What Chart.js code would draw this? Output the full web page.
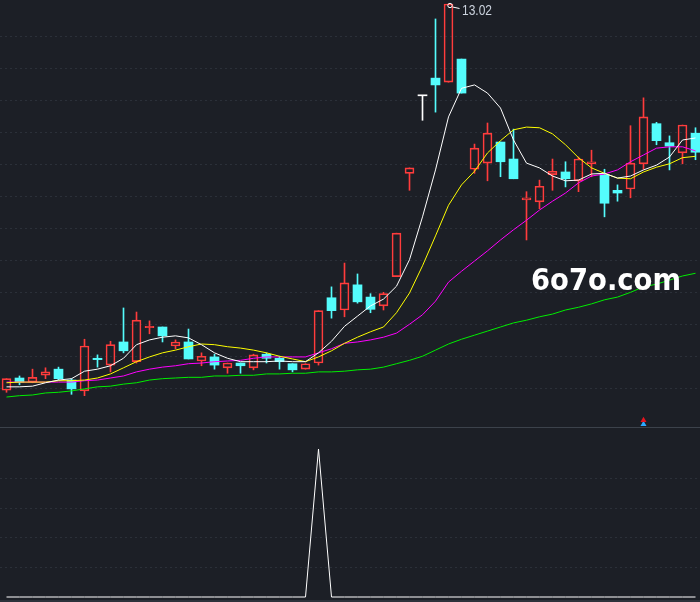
<!DOCTYPE html>
<html>
<head>
<meta charset="utf-8">
<script src="https://cdn.jsdelivr.net/npm/chart.js@4.4.0/dist/chart.umd.min.js"></script>
<style>
html,body{margin:0;padding:0;background:#1c1f26;overflow:hidden;}
#wrap{width:700px;height:602px;position:relative;background:#1c1f26;}
#top{position:absolute;left:0;top:0;width:700px;height:427px;}
#sep{position:absolute;left:0;top:427px;width:700px;height:1px;background:#3c424b;}
#bot{position:absolute;left:0;top:428px;width:700px;height:174px;}
</style>
</head>
<body>
<div id="wrap">
  <div id="top"><canvas id="c1"></canvas></div>
  <div id="sep"></div>
  <div id="bot"><canvas id="c2"></canvas></div>
</div>
<script>
// ---- data ----
const days = [0,1,2,3,4,5,6,7,8,9,10,11,12,13,14,15,16,17,18,19,20,21,22,23,24,25,26,27,28,29,30,31,32,33,34,35,36,37,38,39,40,41,42,43,44,45,46,47,48,49,50,51,52,53];
const openP  = [7.34,7.52,7.46,7.56,7.65,7.49,7.33,7.81,7.71,8.05,7.76,8.26,8.27,7.99,8.05,7.77,7.83,7.67,7.74,7.67,7.87,7.81,7.73,7.65,7.74,8.70,8.52,8.89,8.71,8.58,9.01,10.53,11.67,11.93,11.87,12.21,10.59,10.68,10.99,10.74,10.14,10.11,10.51,10.55,10.42,10.67,10.51,10.28,10.30,10.67,11.26,10.98,10.83,11.12];
const highP  = [7.51,7.55,7.65,7.67,7.68,7.51,8.09,7.86,8.06,8.55,8.49,8.36,8.27,8.08,8.24,7.89,7.87,7.74,7.74,7.87,7.89,7.84,7.73,7.73,8.51,8.86,9.21,9.05,8.76,8.78,9.65,10.61,11.67,12.80,13.02,12.21,10.96,11.27,10.99,11.18,10.26,10.43,10.74,10.70,10.77,10.87,10.59,10.36,11.23,11.64,11.28,11.08,11.24,11.20];
const lowP   = [7.31,7.42,7.45,7.51,7.49,7.28,7.26,7.68,7.61,7.89,7.74,8.17,8.05,7.95,7.80,7.70,7.65,7.59,7.59,7.64,7.74,7.65,7.61,7.65,7.71,8.40,8.42,8.62,8.48,8.52,9.01,10.28,11.31,11.43,11.87,11.71,10.53,10.42,10.48,10.45,9.55,10.01,10.28,10.33,10.26,10.48,9.89,10.12,10.17,10.59,10.95,10.58,10.67,10.73];
const closeP = [7.51,7.46,7.53,7.61,7.51,7.36,7.99,7.79,8.01,7.92,8.37,8.28,8.14,8.05,7.80,7.84,7.71,7.74,7.70,7.86,7.81,7.76,7.64,7.73,8.51,8.51,8.92,8.64,8.53,8.76,9.65,10.61,11.67,11.83,13.02,11.71,10.90,11.12,10.70,10.45,10.17,10.34,10.56,10.45,10.74,10.70,10.09,10.24,10.68,11.36,11.01,10.93,11.24,10.84];
const ma5  = [7.39,7.39,7.40,7.45,7.49,7.51,7.62,7.65,7.70,7.81,8.01,8.08,8.12,8.14,8.11,8.01,7.89,7.81,7.76,7.76,7.76,7.77,7.76,7.76,7.89,8.06,8.28,8.43,8.58,8.68,8.87,9.26,9.89,10.58,11.36,11.78,11.83,11.71,11.49,11.02,10.68,10.61,10.49,10.42,10.43,10.52,10.53,10.46,10.49,10.58,10.65,10.77,11.02,11.05];
const ma10 = [7.45,7.46,7.46,7.46,7.48,7.48,7.49,7.52,7.58,7.67,7.76,7.83,7.89,7.93,7.98,8.02,8.01,7.98,7.96,7.93,7.89,7.84,7.80,7.76,7.83,7.92,8.03,8.12,8.20,8.27,8.48,8.77,9.17,9.61,10.06,10.36,10.56,10.83,11.01,11.17,11.21,11.20,11.11,10.95,10.76,10.61,10.53,10.46,10.45,10.55,10.62,10.67,10.76,10.78];
const ma20 = [7.46,7.46,7.46,7.46,7.46,7.46,7.48,7.49,7.52,7.55,7.61,7.65,7.68,7.70,7.73,7.74,7.76,7.77,7.78,7.81,7.83,7.83,7.83,7.83,7.89,7.95,8.03,8.05,8.08,8.12,8.18,8.31,8.45,8.65,8.93,9.09,9.24,9.39,9.55,9.70,9.84,9.99,10.12,10.24,10.39,10.49,10.52,10.58,10.70,10.80,10.90,10.92,10.92,10.86];
const ma60 = [7.24,7.26,7.27,7.30,7.31,7.33,7.36,7.39,7.40,7.43,7.45,7.49,7.51,7.52,7.53,7.53,7.55,7.55,7.56,7.56,7.58,7.58,7.59,7.59,7.61,7.61,7.62,7.64,7.65,7.68,7.73,7.78,7.84,7.93,8.02,8.09,8.15,8.21,8.27,8.33,8.37,8.42,8.46,8.52,8.56,8.61,8.67,8.71,8.78,8.86,8.90,8.96,9.02,9.06];
const signalVals = [0,0,0,0,0,0,0,0,0,0,0,0,0,0,0,0,0,0,0,0,0,0,0,0,100,0,0,0,0,0,0,0,0,0,0,0,0,0,0,0,0,0,0,0,0,0,0,0,0,0,0,0,0,0];
const markerDay = 49;
const markerUp = 6.90;
const markerDn = 6.84;
const lowerGrid = [20,40,60,80];

// ---- styling ----
const RED = '#ff3c3c', CYAN = '#54fcfc', WHITE = '#ffffff';
const GRID = '#2b3039';
const X_MIN = -0.5, X_MAX = -0.5 + 700 / 13;
const Y_MAX = 13.0788, Y_MIN = 13.0788 - 427 / 68;
const GRID_TOP = 12.5347, GRID_STEP = 32 / 68, GRID_COUNT = 12;

const col = days.map((d, i) => closeP[i] > openP[i] ? RED : (closeP[i] < openP[i] ? CYAN : WHITE));
const bodyBg = days.map((d, i) => closeP[i] > openP[i] ? 'rgba(0,0,0,0)' : col[i]);
const bodyBw = days.map((d, i) => closeP[i] > openP[i] ? 1 : 0);

const bodies = days.map((d, i) => ({x: d, y: [openP[i], closeP[i]]}));
const upWick = days.map((d, i) => ({x: d, y: [Math.max(openP[i], closeP[i]), highP[i]]}));
const dnWick = days.map((d, i) => ({x: d, y: [lowP[i], Math.min(openP[i], closeP[i])]}));
const pts = arr => days.map((d, i) => ({x: d, y: arr[i]}));

function lineDs(arr, color) {
  return {type: 'line', data: pts(arr), borderColor: color, borderWidth: 1, pointRadius: 0,
          tension: 0, fill: false, order: 0};
}

function fitText(ctx, text, x, yBase, width, font, color) {
  ctx.save();
  ctx.font = font;
  const w = ctx.measureText(text).width;
  ctx.translate(x, yBase);
  ctx.scale(width / w, 1);
  ctx.fillStyle = color;
  ctx.textBaseline = 'alphabetic';
  ctx.fillText(text, 0, 0);
  ctx.restore();
}

const annotPlugin = {
  id: 'annot',
  afterDatasetsDraw(chart) {
    const ctx = chart.ctx;
    const xs = chart.scales.x, ys = chart.scales.y;
    let hi = 0;
    highP.forEach((v, i) => { if (v > highP[hi]) hi = i; });
    const hx = xs.getPixelForValue(days[hi]);
    const hy = ys.getPixelForValue(highP[hi]);
    ctx.save();
    ctx.strokeStyle = '#ffffff';
    ctx.lineWidth = 1;
    ctx.beginPath();
    ctx.arc(hx + 1.5, hy + 1.5, 2.2, 0, Math.PI * 2);
    ctx.stroke();
    ctx.beginPath();
    ctx.moveTo(hx + 4, hy + 3);
    ctx.lineTo(hx + 11, hy + 4.5);
    ctx.stroke();
    ctx.restore();
    fitText(ctx, highP[hi].toFixed(2), hx + 13.5, hy + 11, 30, '15px "Liberation Sans"', '#ccd3de');
    fitText(ctx, '6o7o.com', 531, 290, 150, 'bold 30px "DejaVu Sans"', '#ffffff');
  }
};

new Chart(document.getElementById('c1'), {
  type: 'bar',
  data: {
    datasets: [
      lineDs(ma5, '#ffffff'),
      lineDs(ma10, '#ffff00'),
      lineDs(ma20, '#ff00ff'),
      lineDs(ma60, '#00ee00'),
      {type: 'line', data: [{x: markerDay, y: markerUp}], showLine: false, pointStyle: 'triangle',
       pointRadius: 3.5, backgroundColor: '#e8141e', borderWidth: 0, order: 0},
      {type: 'line', data: [{x: markerDay, y: markerDn}], showLine: false, pointStyle: 'triangle',
       pointRadius: 3.5, backgroundColor: '#2fa8ff', borderWidth: 0, order: 0},
      {data: upWick, backgroundColor: col, borderWidth: 0, barThickness: 1, grouped: false, order: 2},
      {data: dnWick, backgroundColor: col, borderWidth: 0, barThickness: 1, grouped: false, order: 2},
      {data: bodies, backgroundColor: bodyBg, borderColor: col, borderWidth: bodyBw, borderSkipped: false,
       barThickness: 9, minBarLength: 1, grouped: false, order: 1}
    ]
  },
  options: {
    responsive: true, maintainAspectRatio: false, animation: false,
    layout: {padding: 0, autoPadding: false},
    plugins: {legend: {display: false}, tooltip: {enabled: false}},
    scales: {
      x: {type: 'linear', min: X_MIN, max: X_MAX, offset: false, display: false},
      y: {
        type: 'linear', min: Y_MIN, max: Y_MAX, display: true,
        afterBuildTicks: (scale) => {
          const t = [];
          for (let k = 0; k < GRID_COUNT; k++) t.push({value: GRID_TOP - k * GRID_STEP});
          scale.ticks = t;
        },
        ticks: {display: false},
        grid: {color: GRID, drawTicks: false, lineWidth: 1},
        border: {display: false, dash: [2, 3]}
      }
    }
  },
  plugins: [annotPlugin]
});

const bottomPlugin = {
  id: 'bottomStrip',
  afterDraw(chart) {
    const ctx = chart.ctx;
    ctx.save();
    ctx.fillStyle = '#2c323b';
    ctx.fillRect(0, chart.height - 2, chart.width, 2);
    ctx.restore();
  }
};

new Chart(document.getElementById('c2'), {
  type: 'line',
  data: {
    datasets: [{data: pts(signalVals), borderColor: '#ffffff', borderWidth: 1, pointRadius: 0, tension: 0, fill: false}]
  },
  options: {
    responsive: true, maintainAspectRatio: false, animation: false,
    layout: {padding: 0, autoPadding: false},
    plugins: {legend: {display: false}, tooltip: {enabled: false}},
    scales: {
      x: {type: 'linear', min: X_MIN, max: X_MAX, offset: false, display: false},
      y: {
        type: 'linear', min: -3.378, max: 114.19, display: true,
        afterBuildTicks: (scale) => { scale.ticks = lowerGrid.map(v => ({value: v})); },
        ticks: {display: false},
        grid: {color: GRID, drawTicks: false, lineWidth: 1},
        border: {display: false, dash: [2, 3]}
      }
    }
  },
  plugins: [bottomPlugin]
});
</script>
</body>
</html>
